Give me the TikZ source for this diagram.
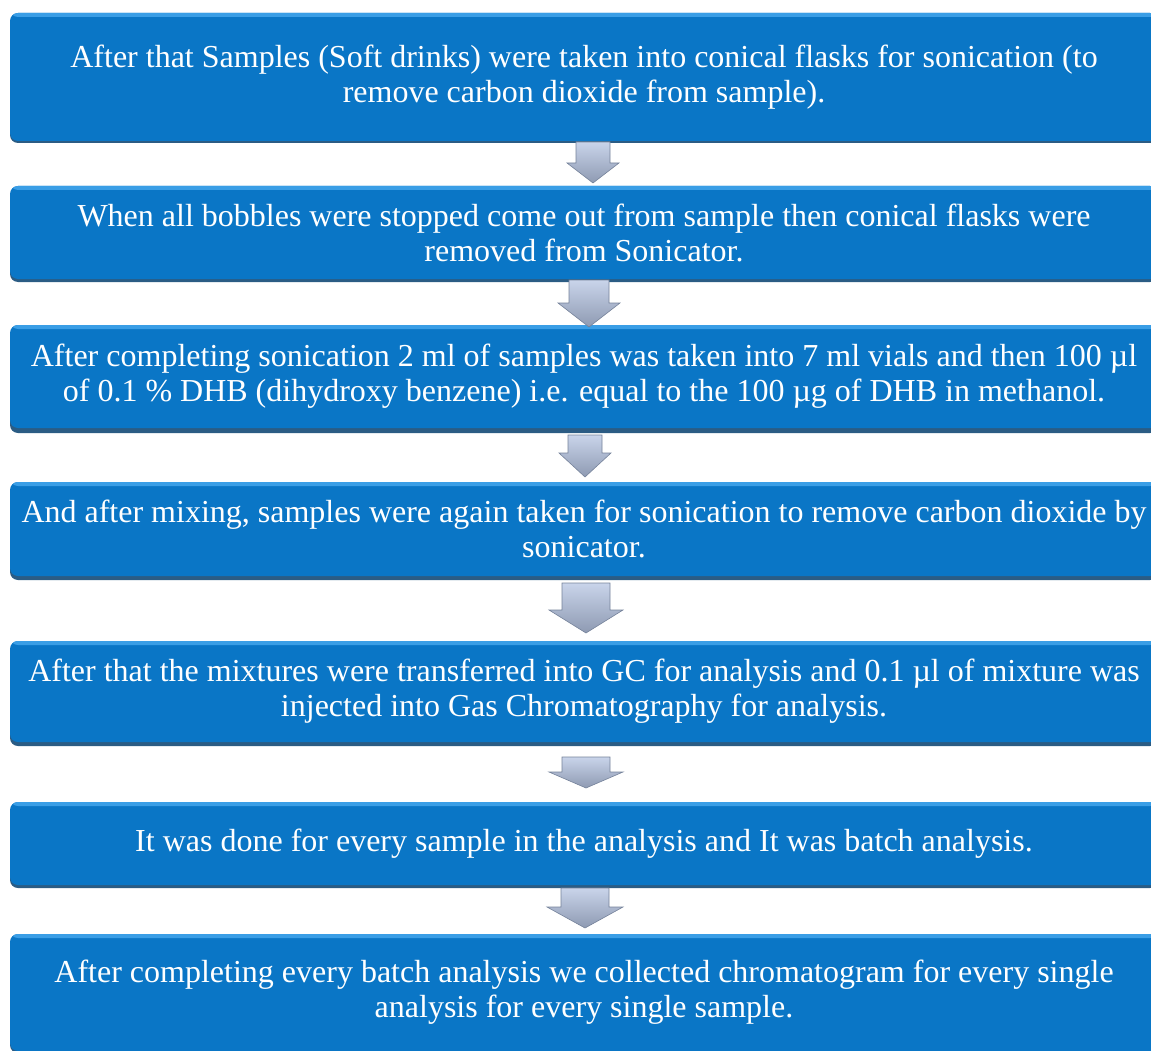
\documentclass[tikz,border=0pt]{standalone}
\usepackage{fontspec}
\setmainfont{Liberation Serif}
\usetikzlibrary{calc}
\definecolor{boxblue}{HTML}{0A76C6}
\definecolor{boxlight}{HTML}{3A9EE6}
\definecolor{boxshadow}{HTML}{2B5C84}
\definecolor{arrtop}{HTML}{C9D4EA}
\definecolor{arrbot}{HTML}{8E9AB2}
\definecolor{arredge}{HTML}{75829A}
\tikzset{
  stepbox/.style={rounded corners=8pt, fill=boxblue, draw=none,
    text=white, align=center, inner sep=0pt,
    font=\fontsize{32}{35}\selectfont,
    path picture={\fill[boxlight] ([yshift=1pt]path picture bounding box.north west) rectangle ([yshift=-4pt]path picture bounding box.north east);}},
  boxshade/.style={rounded corners=8pt, fill=boxshadow, draw=none},
  blockarrow/.style={top color=arrtop, bottom color=arrbot, draw=arredge, line width=0.6pt, line join=miter}
}
% #1 cx, #2 top y, #3 head start y, #4 tip y, #5 shaft half width, #6 head half width
\newcommand\mkblockarrow[6]{%
  \path[blockarrow] (#1-#5,#2) -- (#1+#5,#2) -- (#1+#5,#3) -- (#1+#6,#3) -- (#1,#4) -- (#1-#6,#3) -- (#1-#5,#3) -- cycle;}
\begin{document}
\begin{tikzpicture}[x=1pt,y=-1pt]
\useasboundingbox (0,0) rectangle (1151,1051);
\clip (0,0) rectangle (1151,1051);
% shadows
\foreach \t/\b in {12/140,186/279,327/430,483/577,642/743,802/885,933/1050}{
  \path[boxshade] (10,\t+3) rectangle (1158,\b+3);
}
\node[stepbox, minimum width=1148pt, minimum height=128pt] (b1) at (584,77)
  {After that Samples (Soft drinks) were taken into conical flasks for sonication (to\\remove carbon dioxide from sample).};
\node[stepbox, minimum width=1148pt, minimum height=93pt] (b2) at (584,232.5)
  {When all bobbles were stopped come out from sample then conical flasks were\\removed from Sonicator.};
\node[stepbox, minimum width=1148pt, minimum height=103pt] (b3) at (584,376.5)
  {After completing sonication 2 ml of samples was taken into 7 ml vials and then 100 µl\\of 0.1 \% DHB (dihydroxy benzene) i.e. equal to the 100 µg of DHB in methanol.};
\node[stepbox, minimum width=1148pt, minimum height=94pt] (b4) at (584,529)
  {And after mixing, samples were again taken for sonication to remove carbon dioxide by\\sonicator.};
\node[stepbox, minimum width=1148pt, minimum height=101pt] (b5) at (584,691.5)
  {After that the mixtures were transferred into GC for analysis and 0.1 µl of mixture was\\injected into Gas Chromatography for analysis.};
\node[stepbox, minimum width=1148pt, minimum height=83pt] (b6) at (584,843.5)
  {It was done for every sample in the analysis and It was batch analysis.};
\node[stepbox, minimum width=1148pt, minimum height=117pt] (b7) at (584,992.5)
  {After completing every batch analysis we collected chromatogram for every single\\analysis for every single sample.};
% block arrows between boxes
\mkblockarrow{593}{142}{163}{183}{17}{26}
\mkblockarrow{589}{280}{303}{327}{20}{31}
\mkblockarrow{585}{435}{453}{477}{17}{26}
\mkblockarrow{586}{583}{610}{633}{24}{37}
\mkblockarrow{586}{757}{772}{788}{24}{37}
\mkblockarrow{585}{888}{907}{928}{24}{38}
\end{tikzpicture}
\end{document}
